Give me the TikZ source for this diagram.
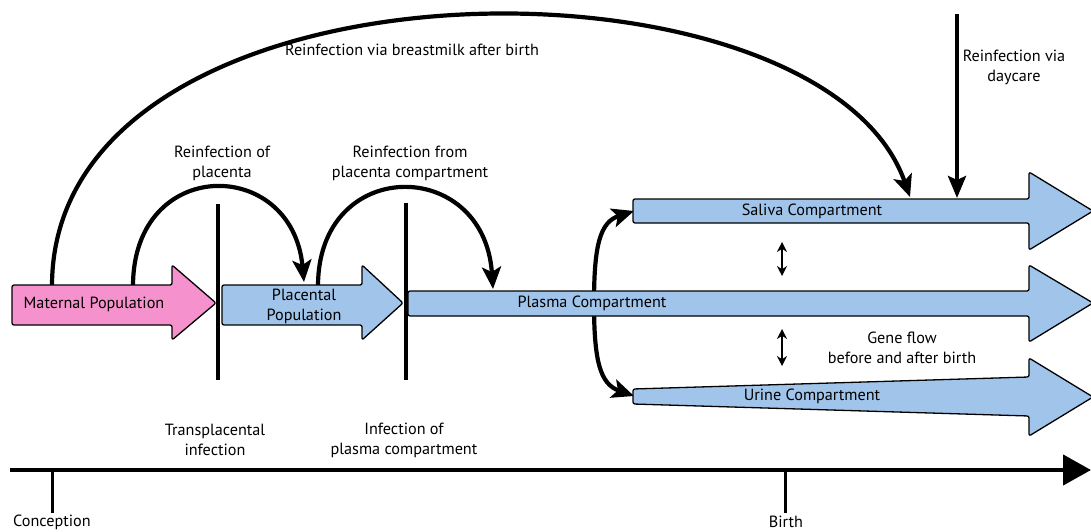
\documentclass[tikz,border=0pt]{standalone}
\usepackage{fontspec}
\setmainfont{PT Sans}
\usetikzlibrary{arrows.meta}
\definecolor{pinkfill}{RGB}{245,145,205}
\definecolor{bluefill}{RGB}{160,196,234}
\begin{document}
\begin{tikzpicture}[x=1pt,y=-1pt,
  compshape/.style={draw=black,line width=1.3pt,rounded corners=2pt,line join=round},
  lbl/.style={font=\fontsize{16.2}{20}\selectfont,align=center,inner sep=0pt},
  curvearrow/.style={line width=4.2pt,-{Stealth[length=22pt,width=19pt,inset=5pt]}},
  barline/.style={line width=3.6pt},
  flowarrow/.style={line width=2.2pt,{Stealth[length=10pt,width=10pt]}-{Stealth[length=10pt,width=10pt]}},
  ]
\useasboundingbox (0,0) rectangle (1091,532);

% coordinates
\coordinate (matTop) at (52,286);
\coordinate (matTop2) at (133,286);
\coordinate (plaTopIn) at (304,282);
\coordinate (plaTop) at (318,286);
\coordinate (plasTopIn) at (493,289);
\coordinate (salIn) at (910,197);
\coordinate (dayStart) at (957,14);
\coordinate (dayEnd) at (957,198);
\coordinate (branch) at (594,303);
\coordinate (salLeft) at (634,211);
\coordinate (urLeft) at (634,396);

% reinfection arcs
\draw[curvearrow] (matTop) .. controls (52,-55) and (820,-60) .. (salIn);
\draw[curvearrow] (matTop2) .. controls (133,156) and (292,156) .. (plaTopIn);
\draw[curvearrow] (plaTop) .. controls (318,156) and (484,156) .. (plasTopIn);
\draw[line width=4pt,-{Stealth[length=22pt,width=18pt,inset=4pt]}] (dayStart) -- (dayEnd);

% branch curves
\draw[curvearrow] (branch) .. controls (594,245) and (600,222) .. (salLeft);
\draw[curvearrow] (branch) .. controls (594,361) and (600,384) .. (urLeft);

% compartments
\draw[compshape,fill=pinkfill] (12,285) -- (172,285) -- (172,265) -- (216,303) -- (172,340) -- (172,325) -- (12,325) -- cycle;
\draw[compshape,fill=bluefill] (222,285) -- (362,285) -- (362,265) -- (403,303) -- (362,340) -- (362,325) -- (222,325) -- cycle;
\draw[compshape,fill=bluefill] (408,291) -- (1029,291) -- (1029,265) -- (1093,303) -- (1029,342) -- (1029,316) -- (408,316) -- cycle;
\draw[compshape,fill=bluefill] (633,199) -- (1029,199) -- (1029,172) -- (1093,211) -- (1029,250) -- (1029,223) -- (633,223) -- cycle;
\draw[compshape,fill=bluefill] (633,389) -- (1029,377) -- (1029,358) -- (1093,397) -- (1029,436) -- (1029,416) -- (633,404) -- cycle;

% barriers
\coordinate (b1t) at (218,204); \coordinate (b1b) at (218,380);
\coordinate (b2t) at (406,203); \coordinate (b2b) at (406,380);
\draw[barline] (b1t) -- (b1b);
\draw[barline] (b2t) -- (b2b);

% gene flow arrows
\coordinate (g1t) at (782,242); \coordinate (g1b) at (782,276);
\coordinate (g2t) at (782,329); \coordinate (g2b) at (782,366);
\draw[flowarrow] (g1t) -- (g1b);
\draw[flowarrow] (g2t) -- (g2b);

% timeline
\coordinate (tlStart) at (10,470);
\coordinate (tlEnd) at (1091,470);
\draw[line width=4.5pt,-{Triangle[length=28pt,width=30pt]}] (tlStart) -- (tlEnd);
\coordinate (c1) at (52,470); \coordinate (c2) at (52,513);
\coordinate (d1) at (785,470); \coordinate (d2) at (785,513);
\draw[line width=3pt] (c1) -- (c2);
\draw[line width=3pt] (d1) -- (d2);

% labels
\node[lbl] (tMat) at (94,304) {Maternal Population};
\node[lbl] (tPla) at (304,306) {Placental\\Population};
\node[lbl] (tPlas) at (592,303) {Plasma Compartment};
\node[lbl] (tSal) at (812,211) {Saliva Compartment};
\node[lbl] (tUr) at (812,396) {Urine Compartment};
\node[lbl] (tGene) at (902,348) {Gene flow\\before and after birth};
\node[lbl] (tBreast) at (412,50) {Reinfection via breastmilk after birth};
\node[lbl] (tDay) at (1014,67) {Reinfection via\\daycare};
\node[lbl] (tRP) at (222,163) {Reinfection of\\placenta};
\node[lbl] (tRPC) at (410,163) {Reinfection from\\placenta compartment};
\node[lbl] (tTrans) at (215,440) {Transplacental\\infection};
\node[lbl] (tInf) at (404,440) {Infection of\\plasma compartment};
\node[lbl] (tCon) at (52,522) {Conception};
\node[lbl] (tBirth) at (786,522) {Birth};
\end{tikzpicture}
\end{document}
